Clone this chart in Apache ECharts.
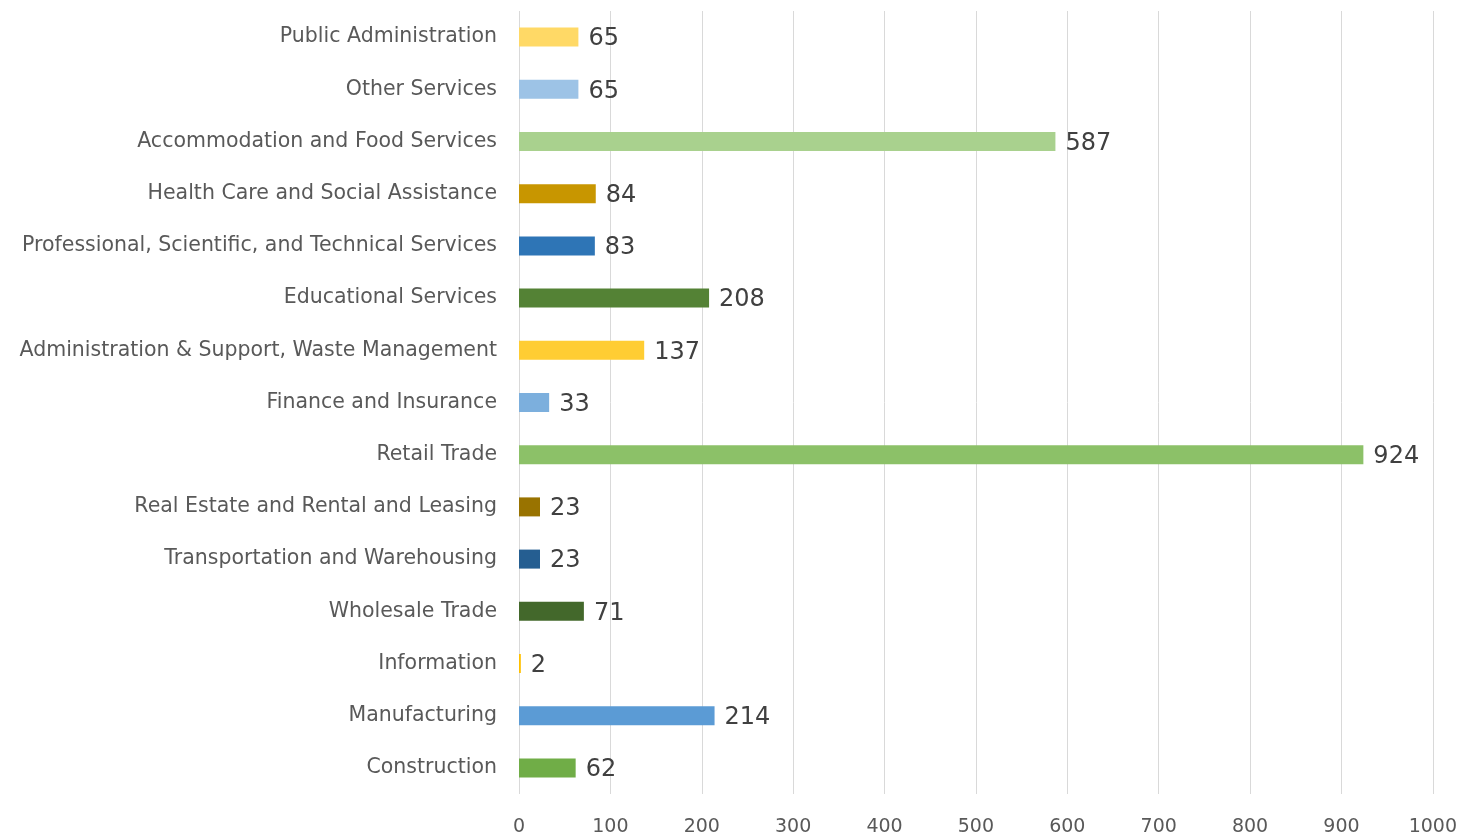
<!DOCTYPE html>
<html>
<head>
<meta charset="utf-8">
<script src="https://cdn.jsdelivr.net/npm/echarts@6/dist/echarts.min.js"></script>
<style>
  html, body { margin: 0; padding: 0; background: #fff; }
  #chart { width: 1460px; height: 838px; }
</style>
</head>
<body>
<div id="chart"></div>
<script>
// bottom to top, as the category axis draws them
var industries = [
  'Construction',
  'Manufacturing',
  'Information',
  'Wholesale Trade',
  'Transportation and Warehousing',
  'Real Estate and Rental and Leasing',
  'Retail Trade',
  'Finance and Insurance',
  'Administration & Support, Waste Management',
  'Educational Services',
  'Professional, Scientific, and Technical Services',
  'Health Care and Social Assistance',
  'Accommodation and Food Services',
  'Other Services',
  'Public Administration'
];
var counts = [62, 214, 2, 71, 23, 23, 924, 33, 137, 208, 83, 84, 587, 65, 65];
var barColors = [
  '#70ad47', '#5b9bd5', '#ffc000', '#43682b', '#255e91',
  '#997300', '#8cc168', '#7cafdd', '#ffcd33', '#548235',
  '#2e75b6', '#c89600', '#a9d18e', '#9dc3e6', '#ffd966'
];
var xTicks = [0, 100, 200, 300, 400, 500, 600, 700, 800, 900, 1000];

var chart = echarts.init(document.getElementById('chart'));

var option = {
  animation: false,
  textStyle: { fontFamily: 'DejaVu Sans' },
  grid: {
    left: 519,
    right: 27,
    top: 11,
    bottom: 44
  },
  xAxis: {
    type: 'value',
    min: xTicks[0],
    max: xTicks[xTicks.length - 1],
    interval: 100,
    axisLine: { show: false },
    axisTick: { show: false },
    axisLabel: {
      color: '#595959',
      fontSize: 19,
      margin: 24,
      formatter: function (v) { return String(v); }
    },
    splitLine: {
      lineStyle: { color: '#d9d9d9', width: 1 }
    }
  },
  yAxis: {
    type: 'category',
    data: industries,
    axisLine: { show: false },
    axisTick: { show: false },
    axisLabel: {
      color: '#595959',
      fontSize: 20.5,
      margin: 22
    }
  },
  series: [{
    type: 'bar',
    barWidth: 19,
    data: counts.map(function (v, i) {
      return { value: v, itemStyle: { color: barColors[i] } };
    }),
    label: {
      show: true,
      position: 'right',
      distance: 10,
      offset: [0, 2],
      color: '#404040',
      fontSize: 24
    }
  }]
};

chart.setOption(option);
</script>
</body>
</html>
